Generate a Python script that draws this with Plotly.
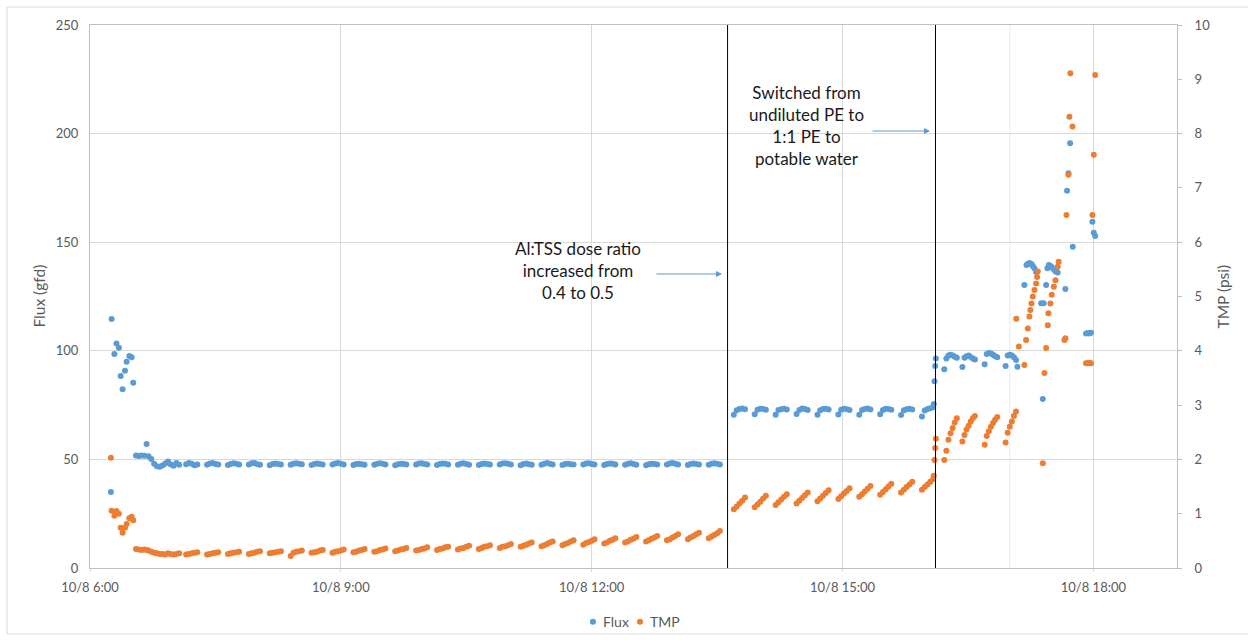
import pandas as pd
import plotly.graph_objects as go

BASE = pd.Timestamp("2020-10-08 06:00")

# ---------------- data (time = minutes after 10/8 6:00) ----------------
# start-up period
t_early = [15, 15.5, 17.5, 19, 20.7, 22, 23.4, 25.1, 26.3, 28.2, 29.9, 31,
           33, 35, 37, 39, 40.6, 42, 44, 46, 48, 50, 52, 54, 56, 58, 60, 62, 64]
flux_early = [35, 114.6, 98.5, 103.4, 101.4, 88.4, 82.3, 90.8, 95, 97.6, 97, 85.3,
              51.8, 51.6, 51.8, 51.7, 57.1, 51.5, 50.2, 48.0, 46.8, 46.6, 47.2, 48.1,
              49.0, 47.6, 47.1, 48.4, 47.5]
tmp_early = [2.03, 1.055, 0.96, 1.05, 1.0, 0.74, 0.65, 0.74, 0.81, 0.915, 0.945, 0.88,
             0.35, 0.34, 0.33, 0.34, 0.33, 0.32, 0.30, 0.28, 0.27, 0.26, 0.26, 0.25,
             0.27, 0.26, 0.25, 0.26, 0.27]

# filtration cycles, dose ratio 0.4 (each cycle logged at +0,2,4,6,8 min)
cycle_offsets = [0, 2, 4, 6, 8]
cycles_a = [69, 84, 99, 114, 129, 144, 159, 174, 189, 204, 219, 234, 249, 264,
            279, 294, 309, 324, 339, 354, 369, 384, 399, 414, 429, 444]
flux_a = [
    [47.8, 48.4, 48.0, 47.3, 47.6], [47.5, 48.1, 48.3, 47.9, 47.6],
    [47.4, 47.9, 48.2, 48.0, 47.7], [47.6, 48.2, 48.3, 47.8, 47.5],
    [47.3, 47.9, 48.1, 47.9, 47.6], [47.5, 48.0, 48.2, 48.0, 47.8],
    [47.4, 47.9, 48.1, 47.9, 47.6], [47.6, 48.1, 48.3, 48.0, 47.7],
    [47.4, 47.9, 48.0, 47.8, 47.5], [47.5, 48.0, 48.2, 48.0, 47.7],
    [47.3, 47.8, 48.0, 47.9, 47.6], [47.6, 48.1, 48.2, 47.9, 47.6],
    [47.4, 47.9, 48.1, 48.0, 47.7], [47.5, 48.0, 48.2, 47.9, 47.5],
    [47.4, 47.9, 48.1, 47.9, 47.6], [47.6, 48.1, 48.2, 48.0, 47.7],
    [47.3, 47.9, 48.1, 47.8, 47.5], [47.5, 48.0, 48.3, 48.0, 47.7],
    [47.4, 47.9, 48.0, 47.8, 47.6], [47.6, 48.1, 48.2, 47.9, 47.6],
    [47.4, 47.9, 48.1, 48.0, 47.7], [47.5, 48.0, 48.2, 47.9, 47.5],
    [47.3, 47.8, 48.0, 47.9, 47.6], [47.6, 48.1, 48.3, 48.0, 47.7],
    [47.4, 47.9, 48.1, 47.9, 47.6], [47.5, 48.0, 48.2, 48.0, 47.7],
]
tmp_a = [
    [0.25, 0.26, 0.27, 0.28, 0.29], [0.25, 0.26, 0.27, 0.28, 0.29],
    [0.26, 0.27, 0.28, 0.29, 0.30], [0.26, 0.27, 0.28, 0.30, 0.31],
    [0.27, 0.28, 0.29, 0.30, 0.31], [0.22, 0.28, 0.30, 0.31, 0.32],
    [0.28, 0.29, 0.30, 0.32, 0.33], [0.28, 0.30, 0.31, 0.32, 0.34],
    [0.29, 0.30, 0.32, 0.33, 0.35], [0.30, 0.31, 0.33, 0.34, 0.36],
    [0.31, 0.32, 0.34, 0.35, 0.37], [0.32, 0.33, 0.35, 0.36, 0.38],
    [0.33, 0.35, 0.36, 0.38, 0.39], [0.34, 0.36, 0.37, 0.39, 0.41],
    [0.35, 0.37, 0.39, 0.40, 0.42], [0.37, 0.39, 0.40, 0.42, 0.44],
    [0.39, 0.41, 0.43, 0.45, 0.47], [0.40, 0.42, 0.44, 0.47, 0.49],
    [0.42, 0.44, 0.46, 0.49, 0.51], [0.43, 0.46, 0.48, 0.50, 0.53],
    [0.45, 0.47, 0.50, 0.52, 0.55], [0.47, 0.49, 0.52, 0.54, 0.57],
    [0.49, 0.51, 0.54, 0.56, 0.59], [0.51, 0.53, 0.56, 0.59, 0.62],
    [0.53, 0.56, 0.59, 0.62, 0.65], [0.55, 0.58, 0.61, 0.64, 0.68],
]

# filtration cycles, dose ratio 0.5
cycles_b = [462, 477, 492, 507, 522, 537, 552, 567, 582, 597]
flux_b = [
    [70.5, 72.6, 73.2, 73.4, 73.1], [70.8, 72.9, 73.3, 73.2, 72.9],
    [70.6, 72.7, 73.1, 73.3, 73.0], [70.9, 72.8, 73.4, 73.2, 72.8],
    [70.5, 72.6, 73.2, 73.3, 73.0], [70.7, 72.9, 73.3, 73.1, 72.8],
    [70.6, 72.7, 73.2, 73.4, 73.0], [70.8, 72.8, 73.3, 73.2, 72.9],
    [70.4, 72.6, 73.1, 73.3, 73.0], [69.8, 72.5, 73.2, 73.6, 74.0],
]
tmp_b = [
    [1.08, 1.13, 1.19, 1.24, 1.30], [1.12, 1.17, 1.22, 1.28, 1.33],
    [1.16, 1.21, 1.26, 1.31, 1.36], [1.19, 1.24, 1.29, 1.34, 1.39],
    [1.23, 1.28, 1.33, 1.38, 1.43], [1.27, 1.32, 1.37, 1.42, 1.47],
    [1.31, 1.36, 1.41, 1.46, 1.51], [1.35, 1.40, 1.45, 1.50, 1.55],
    [1.39, 1.44, 1.49, 1.54, 1.59], [1.44, 1.49, 1.54, 1.59, 1.64],
]

# switch to 1:1 PE : potable water, and end of run
t_late = [605.5, 606, 606.5, 607,
          613, 614.5, 616, 617.5, 619, 620.5, 622,
          626, 627.5, 629, 630.5, 632, 633.5, 635,
          642, 643.5, 645, 646.5, 648, 649.5, 651,
          657, 658.5, 660, 661.5, 663, 664.5,
          664.7, 665.5, 666.5, 670.5, 671.7, 672.0, 672.9, 674.1, 674.8, 675.6,
          676.5, 677.7, 678.9, 679.6, 680.1, 682.5, 683.7, 684.3, 684.9, 686.1,
          687.0, 687.3, 687.7, 688.0, 689.2, 690.1, 691.6, 692.8, 694.4, 695.1,
          699.2, 699.9, 700.7, 701.1, 702.1, 702.8, 703.3, 703.5, 705.0, 705.2,
          714.7, 715.9, 717.1, 718.3, 719.3, 720.3, 721.3]
flux_late = [75.5, 86, 93, 96.5,
             91.5, 96.5, 97.8, 98.2, 97.8, 97.3, 96.8,
             92.5, 96.8, 97.5, 97.8, 97.2, 96.5, 96.0,
             93.8, 98.5, 99.0, 98.8, 98.2, 97.5, 97.0,
             93.0, 97.8, 98.2, 97.8, 97.0, 95.8,
             None, 92.7, None, 130.3, None, 139.5, 140.0, 140.4, None, 140.0,
             139.0, 138.0, 136.3, None, None, 121.9, 77.8, 121.9, None, 130.3,
             138.0, None, None, 139.5, 139.0, 138.5, 137.5, 136.5, 136.0, None,
             None, 128.5, None, 173.7, 181.7, None, 195.5, None, None, 147.9,
             108.0, 108.2, 108.0, 108.3, 159.4, 154.4, 152.9]
tmp_late = [1.70, 1.99, 2.21, 2.38,
            1.99, 2.16, 2.36, 2.48, 2.58, 2.68, 2.76,
            2.33, 2.45, 2.55, 2.62, 2.70, 2.76, 2.80,
            2.27, 2.43, 2.52, 2.60, 2.67, 2.73, 2.78,
            2.31, 2.49, 2.60, 2.70, 2.80, 2.88,
            4.59, None, 4.08, 3.74, 4.20, None, 4.41, 4.63, 4.75, 4.87,
            5.00, 5.12, 5.24, 5.36, 5.46, None, 1.93, None, 3.59, 4.05,
            None, 4.47, 4.69, None, 4.87, 5.03, 5.18, 5.30, 5.55, 5.64,
            4.20, 4.23, 6.50, None, 7.24, 8.31, None, 9.11, 8.13, None,
            3.77, 3.77, 3.78, 3.77, 6.50, 7.61, 9.08]

# process changes (minutes after 6:00)
event_minutes = [457.5, 606.7]
faint_line_minutes = [660]

tick_hours = [6, 9, 12, 15, 18]
tick_labels = ["10/8 6:00", "10/8 9:00", "10/8 12:00", "10/8 15:00", "10/8 18:00"]

series_names = ["Flux", "TMP"]

# ---------------- assemble ----------------
minutes, flux, tmp = list(t_early), list(flux_early), list(tmp_early)
for starts, fl, tp in [(cycles_a, flux_a, tmp_a), (cycles_b, flux_b, tmp_b)]:
    for s, fvals, tvals in zip(starts, fl, tp):
        for off, fv, tv in zip(cycle_offsets, fvals, tvals):
            minutes.append(s + off)
            flux.append(fv)
            tmp.append(tv)
minutes += t_late
flux += flux_late
tmp += tmp_late

times = [BASE + pd.Timedelta(minutes=m) for m in minutes]

BLUE = "#5B9BD5"
ORANGE = "#ED7D31"
GRAY = "#595959"
FONT = "Lato"

fig = go.Figure()
fig.add_trace(go.Scatter(x=times, y=flux, name=series_names[0], mode="markers",
                         marker=dict(color=BLUE, size=6), yaxis="y",
                         showlegend=False))
fig.add_trace(go.Scatter(x=times, y=tmp, name=series_names[1], mode="markers",
                         marker=dict(color=ORANGE, size=6), yaxis="y2",
                         showlegend=False))

for m in faint_line_minutes:
    t = BASE + pd.Timedelta(minutes=m)
    fig.add_shape(type="line", xref="x", yref="paper", x0=t, x1=t, y0=0, y1=1,
                  line=dict(color="#ececec", width=1), layer="below")

for m in event_minutes:
    t = BASE + pd.Timedelta(minutes=m)
    fig.add_shape(type="line", xref="x", yref="paper", x0=t, x1=t, y0=0, y1=1,
                  line=dict(color="black", width=1))

# outer chart border
fig.add_shape(type="rect", xref="paper", yref="paper",
              x0=-0.0764, x1=1.08, y0=-0.1215, y1=1.0331,
              line=dict(color="#d9d9d9", width=1))

fig.update_layout(
    width=1248, height=643,
    margin=dict(l=90, r=71, t=25, b=75, autoexpand=False),
    paper_bgcolor="white", plot_bgcolor="white",
    font=dict(family=FONT, size=13, color=GRAY),
    xaxis=dict(type="date",
               range=[BASE, BASE + pd.Timedelta(hours=13)],
               tickvals=[BASE + pd.Timedelta(hours=h - 6) for h in tick_hours],
               ticktext=tick_labels,
               showgrid=True, gridcolor="#d9d9d9", gridwidth=1,
               showline=True, linecolor="#bfbfbf", mirror=True,
               ticks="outside", ticklen=3, tickcolor="#d9d9d9",
               ticklabelstandoff=4, zeroline=False),
    yaxis=dict(range=[0, 250], dtick=50, showgrid=True, gridcolor="#d9d9d9",
               showline=True, linecolor="#bfbfbf", ticks="",
               ticklabelstandoff=8, zeroline=False),
    yaxis2=dict(range=[0, 10], dtick=1, overlaying="y", side="right",
                showgrid=False, showline=True, linecolor="#bfbfbf",
                ticks="outside", ticklen=4, tickcolor="#bfbfbf",
                ticklabelstandoff=10, zeroline=False),
    showlegend=False,
)

ann_font = dict(family=FONT, size=17, color="#1a1a1a")
fig.add_annotation(xref="paper", yref="paper", x=0.449, y=0.5488,
                   xanchor="center", yanchor="middle",
                   text="Al:TSS dose ratio<br>increased from<br>0.4 to 0.5",
                   showarrow=False, font=ann_font, align="center")
fig.add_annotation(xref="paper", yref="paper", x=0.6587, y=0.814,
                   xanchor="center", yanchor="middle",
                   text="Switched from<br>undiluted PE to<br>1:1 PE to<br>potable water",
                   showarrow=False, font=ann_font, align="center")
# arrows
fig.add_annotation(xref="paper", yref="paper", axref="pixel", ayref="pixel",
                   x=0.5814, y=0.5414, ax=-67, ay=0, text="",
                   showarrow=True, arrowhead=2, arrowsize=1, arrowwidth=1.2,
                   arrowcolor=BLUE)
fig.add_annotation(xref="paper", yref="paper", axref="pixel", ayref="pixel",
                   x=0.7728, y=0.8048, ax=-59, ay=0, text="",
                   showarrow=True, arrowhead=2, arrowsize=1, arrowwidth=1.2,
                   arrowcolor=BLUE)
# axis titles
fig.add_annotation(xref="paper", yref="paper", x=-0.0478, y=0.5,
                   xanchor="center", yanchor="middle",
                   text="Flux (gfd)", textangle=-90, showarrow=False,
                   font=dict(family=FONT, size=15.5, color=GRAY))
fig.add_annotation(xref="paper", yref="paper", x=1.0423, y=0.5,
                   xanchor="center", yanchor="middle",
                   text="TMP (psi)", textangle=-90, showarrow=False,
                   font=dict(family=FONT, size=15.5, color=GRAY))

# legend (bottom centre)
legend_colors = [BLUE, ORANGE]
legend_x = [0.4627, 0.5060]
for name, col, lx in zip(series_names, legend_colors, legend_x):
    fig.add_shape(type="circle", xref="paper", yref="paper",
                  x0=lx - 0.0028, x1=lx + 0.0028, y0=-0.0988 - 0.0055,
                  y1=-0.0988 + 0.0055, fillcolor=col, line=dict(width=0))
    fig.add_annotation(xref="paper", yref="paper", x=lx + 0.0075, y=-0.0988,
                       xanchor="left", yanchor="middle", text=name,
                       showarrow=False, font=dict(family=FONT, size=14, color=GRAY))

fig.write_html("out.html")
